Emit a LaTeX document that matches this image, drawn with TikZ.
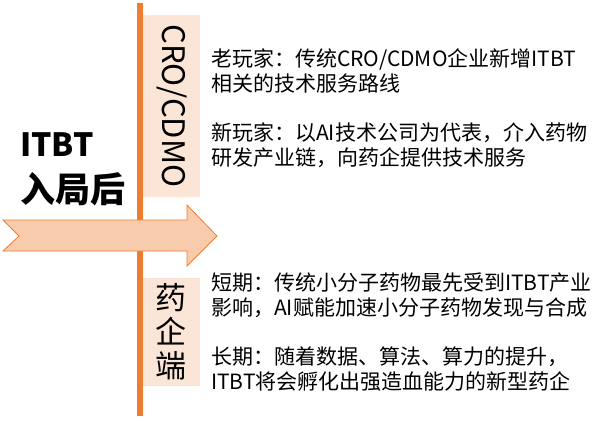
\documentclass[tikz,border=0pt]{standalone}
\usepackage{fontspec}
\setmainfont{Noto Sans CJK SC}
\usetikzlibrary{positioning}
\definecolor{lineorange}{HTML}{ED7D31}
\definecolor{boxpeach}{HTML}{FBE5D6}
\definecolor{arrowpeach}{HTML}{F8CBAD}
\begin{document}
\begin{tikzpicture}[x=1pt, y=-1pt]
    \tikzstyle{box_style} = [fill=boxpeach, draw=none]
    \tikzstyle{side_label} = [inner sep=0pt, font=\fontsize{31}{34}\selectfont]
    \tikzstyle{note_style} = [anchor=west, align=left, inner sep=0pt, font=\fontsize{21}{25}\selectfont]
    \useasboundingbox (0,0) rectangle (596,420);

    % pale boxes and the axis
    \fill[box_style] (143,15) rectangle (200,197);
    \fill[box_style] (143,278) rectangle (200,386);
    \coordinate (axis_top) at (140,3);
    \coordinate (axis_bot) at (140,416);
    \draw[lineorange, line width=6pt] (axis_top) -- (axis_bot);

    % big arrow
    \draw[fill=arrowpeach, draw=lineorange, line width=0.8pt, line join=miter]
        (3,220) -- (187,220) -- (187,205) -- (217,236) -- (187,266)
        -- (187,251) -- (3,251) -- (19,236) -- cycle;

    % title
    \node[anchor=west, align=left, inner sep=0pt,
          font=\fontsize{32}{46}\selectfont\bfseries] (title) at (20,169)
          {ITBT\\{\fontsize{35}{46}\selectfont 入局后}};

    % side labels
    \node[side_label, rotate=-90] (cro) at (172,106) {CRO/CDMO};
    \node[side_label, align=center, font=\fontsize{31}{34}\selectfont] (pharma) at (171,332) {药\\企\\端};

    % notes
    \node[note_style] (old) at (211,70.5) {老玩家：传统CRO/CDMO企业新增ITBT\\相关的技术服务路线};
    \node[note_style] (new) at (211,145) {新玩家：以AI技术公司为代表，介入药物\\研发产业链，向药企提供技术服务};
    \node[note_style] (short) at (211,295) {短期：传统小分子药物最先受到ITBT产业\\影响，AI赋能加速小分子药物发现与合成};
    \node[note_style] (long) at (211,369.5) {长期：随着数据、算法、算力的提升，\\ITBT将会孵化出强造血能力的新型药企};
\end{tikzpicture}
\end{document}
